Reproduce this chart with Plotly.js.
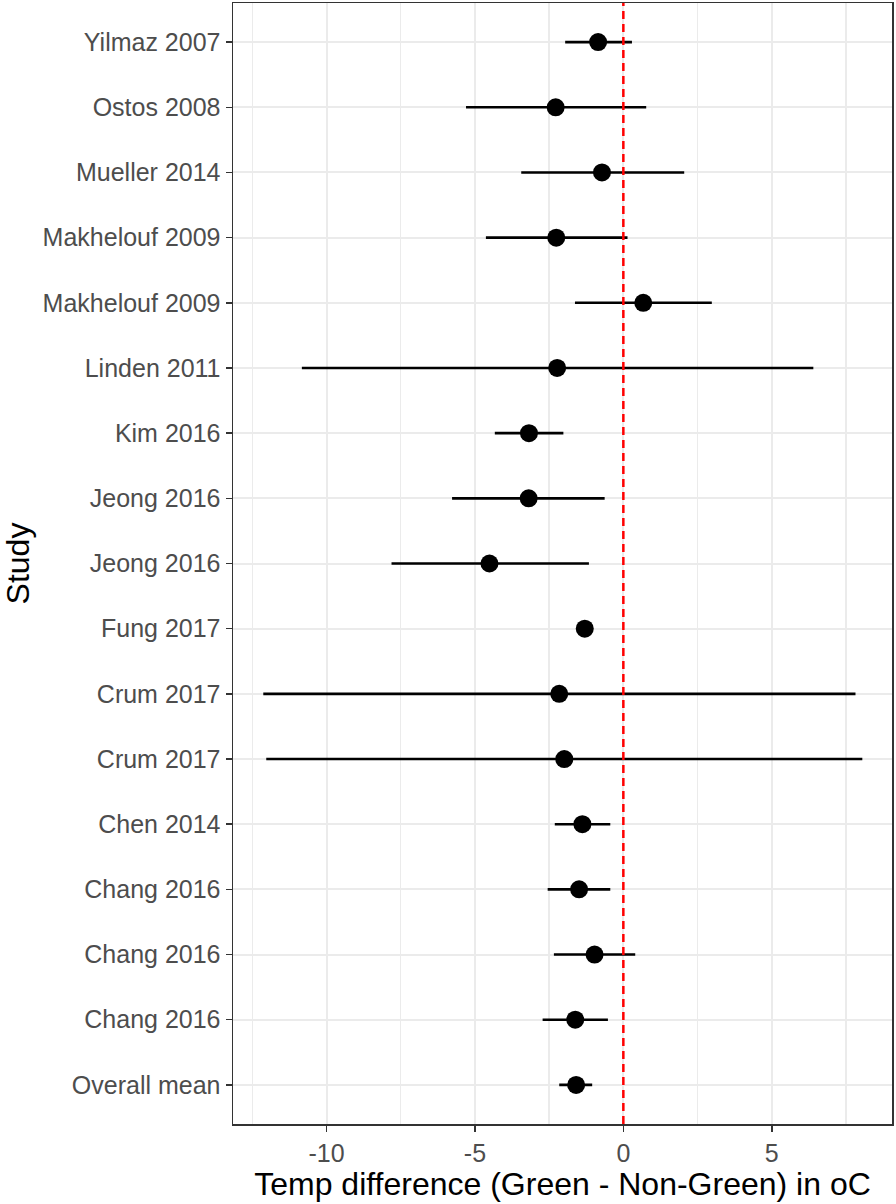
<!DOCTYPE html>
<html>
<head>
<meta charset="utf-8">
<script src="https://cdn.plot.ly/plotly-3.0.1.min.js"></script>
<style>html,body{margin:0;padding:0;background:#fff;}</style>
</head>
<body>
<div id="chart" style="width:896px;height:1204px;"></div>
<script>
// Study labels, top to bottom
const studies = ["Yilmaz 2007","Ostos 2008","Mueller 2014","Makhelouf 2009","Makhelouf 2009","Linden 2011","Kim 2016","Jeong 2016","Jeong 2016","Fung 2017","Crum 2017","Crum 2017","Chen 2014","Chang 2016","Chang 2016","Chang 2016","Overall mean"];
// Mean temperature difference
const meanDiff = [-0.85,-2.28,-0.72,-2.26,0.67,-2.23,-3.18,-3.19,-4.51,-1.30,-2.16,-1.99,-1.38,-1.49,-0.97,-1.62,-1.59];
// Lower and upper limits
const lowerCI = [-1.96,-5.30,-3.44,-4.63,-1.63,-10.83,-4.33,-5.77,-7.81,-1.30,-12.13,-12.03,-2.31,-2.55,-2.34,-2.72,-2.16];
const upperCI = [0.29,0.77,2.05,0.14,2.98,6.40,-2.02,-0.63,-1.16,-1.30,7.82,8.05,-0.44,-0.44,0.40,-0.52,-1.05];

const n = studies.length;
const yPos = studies.map((s, i) => n - i);

const font = "'Liberation Sans', Arial, sans-serif";

const trace = {
  type: "scatter",
  mode: "markers",
  x: meanDiff,
  y: yPos,
  marker: {color: "#000000", size: 18},
  error_x: {
    type: "data",
    symmetric: false,
    array: meanDiff.map((m, i) => upperCI[i] - m),
    arrayminus: meanDiff.map((m, i) => m - lowerCI[i]),
    color: "#000000",
    thickness: 2.6,
    width: 0
  },
  hoverinfo: "x+y",
  showlegend: false
};

const layout = {
  width: 896,
  height: 1204,
  margin: {l: 233, r: 4, t: 3, b: 80},
  paper_bgcolor: "#ffffff",
  plot_bgcolor: "#ffffff",
  font: {family: font, color: "#000000"},
  xaxis: {
    range: [-13.15, 9.05],
    tickvals: [-10, -5, 0, 5],
    ticktext: ["-10", "-5", "0", "5"],
    tickfont: {size: 25, color: "#4D4D4D", family: font},
    ticks: "outside",
    ticklen: 6,
    tickwidth: 1.5,
    tickcolor: "#333333",
    showgrid: true,
    gridcolor: "#EBEBEB",
    gridwidth: 2,
    minor: {tickvals: [-12.5, -7.5, -2.5, 2.5, 7.5], showgrid: true, gridcolor: "#EBEBEB", gridwidth: 1.3, ticks: ""},
    zeroline: false,
    showline: true,
    linecolor: "#333333",
    linewidth: 1.5,
    mirror: true,
    title: {text: "Temp difference (Green - Non-Green) in oC", font: {size: 32, color: "#000000", family: font}, standoff: 6},
    automargin: false
  },
  yaxis: {
    range: [0.4, n + 0.6],
    tickvals: yPos,
    ticktext: studies,
    tickfont: {size: 25, color: "#4D4D4D", family: font},
    ticks: "outside",
    ticklen: 6,
    tickwidth: 1.5,
    tickcolor: "#333333",
    showgrid: true,
    gridcolor: "#EBEBEB",
    gridwidth: 2,
    zeroline: false,
    showline: true,
    linecolor: "#333333",
    linewidth: 1.5,
    mirror: true,
    title: {text: "Study", font: {size: 32, color: "#000000", family: font}, standoff: 10},
    automargin: false
  },
  shapes: [{
    type: "line",
    xref: "x", yref: "paper",
    x0: 0, x1: 0, y0: 0, y1: 1,
    line: {color: "#FF0000", width: 2.5, dash: "8px,5px"},
    layer: "above"
  }]
};

Plotly.newPlot("chart", [trace], layout, {displayModeBar: false, staticPlot: true});
</script>
</body>
</html>
